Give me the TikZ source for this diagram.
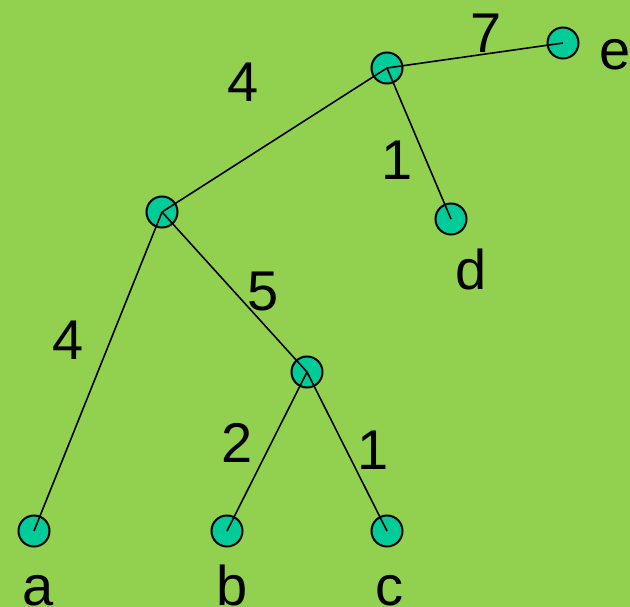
\documentclass[tikz,border=0pt]{standalone}
\usepackage{fontspec}
\setmainfont{Liberation Sans}
\definecolor{bg}{HTML}{92D050}
\definecolor{nodefill}{HTML}{00CC99}
\begin{document}
\begin{tikzpicture}[x=1pt,y=-1pt,
  vert/.style={circle,draw=black,line width=2pt,fill=nodefill,minimum size=31pt,inner sep=0pt},
  edge/.style={line width=1.6pt},
  lbl/.style={font=\fontsize{56}{56}\selectfont,inner sep=0pt}]
\fill[bg] (0,0) rectangle (630,607);
\useasboundingbox (0,0) rectangle (630,607);
\node[vert] (r) at (387,68) {};
\node[vert] (e) at (563,43) {};
\node[vert] (d) at (451,219) {};
\node[vert] (m) at (162,212) {};
\node[vert] (n) at (307,372) {};
\node[vert] (a) at (34,531) {};
\node[vert] (b) at (227,531) {};
\node[vert] (c) at (387,531) {};
\draw[edge] (r.center) -- (e.center);
\draw[edge] (r.center) -- (d.center);
\draw[edge] (r.center) -- (m.center);
\draw[edge] (m.center) -- (a.center);
\draw[edge] (m.center) -- (n.center);
\draw[edge] (n.center) -- (b.center);
\draw[edge] (n.center) -- (c.center);
\node[lbl] (l1) at (243,82) {4};
\node[lbl] (l2) at (486,33) {7};
\node[lbl] (l3) at (397,160) {1};
\node[lbl] (l4) at (263,292) {5};
\node[lbl] (l5) at (68,340) {4};
\node[lbl] (l6) at (237,443) {2};
\node[lbl] (l7) at (373,450) {1};
\node[lbl,anchor=base] (ld) at (471,290) {d};
\node[lbl,anchor=base] (le) at (615,70) {e};
\node[lbl,anchor=base] (la) at (38,605) {a};
\node[lbl,anchor=base] (lb) at (232,605) {b};
\node[lbl,anchor=base] (lc) at (389,605) {c};
\end{tikzpicture}
\end{document}
